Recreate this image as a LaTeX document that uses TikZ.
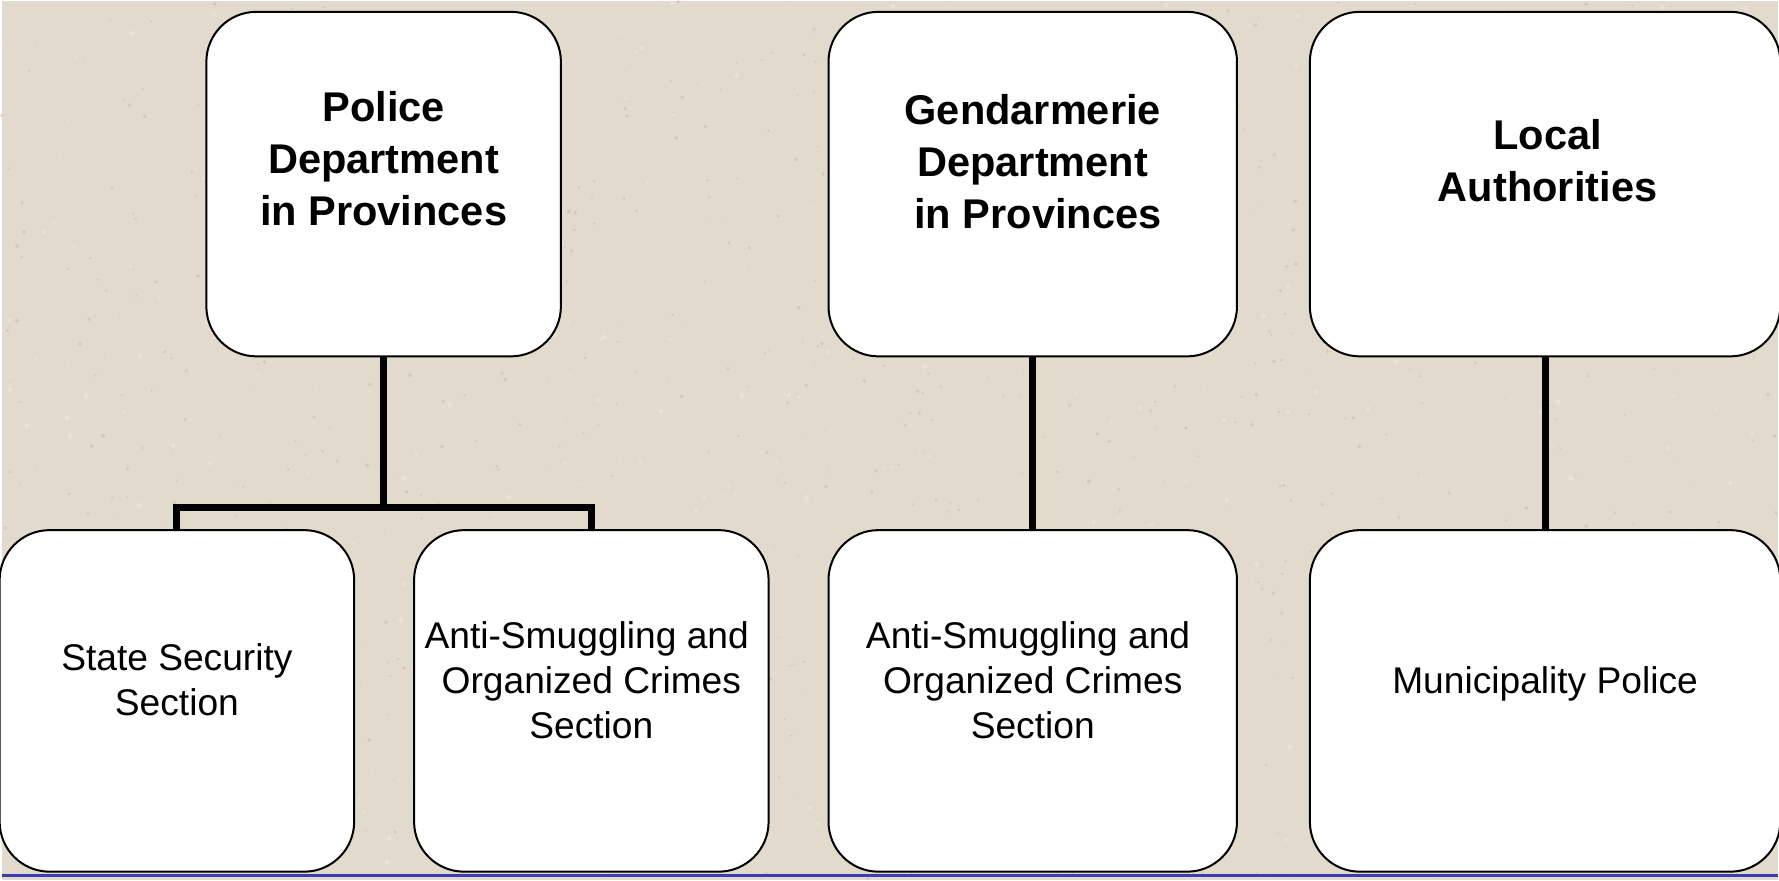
\documentclass[tikz,border=0pt]{standalone}
\usepackage{fontspec}
\setmainfont{Liberation Sans}
\definecolor{paper}{RGB}{226,218,204}
\definecolor{speck}{RGB}{196,186,168}
\definecolor{speckl}{RGB}{238,232,220}
\definecolor{rule}{RGB}{60,60,180}
\tikzset{
  x=0.5pt, y=-0.5pt,
  orgbox/.style={draw=black, line width=1pt, fill=white, rounded corners=25pt,
    inner sep=0pt, outer sep=0pt, minimum height=172.5pt},
  headtext/.style={align=center, inner sep=0pt,
    font=\fontsize{20.8pt}{26pt}\selectfont\bfseries},
  subtext/.style={align=center, inner sep=0pt,
    font=\fontsize{18.6pt}{22.5pt}\selectfont},
  conn/.style={draw=black, line width=3.5pt},
  bluerule/.style={draw=rule, line width=1.5pt}
}
\begin{document}
\begin{tikzpicture}
\fill[paper] (0,0) rectangle (1779,880);
\pgfmathsetseed{7}
\foreach \i in {1,...,900}{
  \pgfmathsetmacro{\px}{rnd*1779}
  \pgfmathsetmacro{\py}{rnd*880}
  \pgfmathsetmacro{\pr}{0.6+rnd*1.4}
  \fill[speck, opacity=0.55] (\px,\py) circle[radius=\pr];
}
\foreach \i in {1,...,500}{
  \pgfmathsetmacro{\px}{rnd*1779}
  \pgfmathsetmacro{\py}{rnd*880}
  \pgfmathsetmacro{\pr}{0.8+rnd*1.8}
  \fill[speckl, opacity=0.6] (\px,\py) circle[radius=\pr];
}
\useasboundingbox (0,0) rectangle (1779,880);
% bottom blue rule
\coordinate (bl) at (0,876);
\coordinate (br) at (1779,876);
\draw[bluerule] (bl) -- (br);
% top boxes
\node[orgbox, minimum width=177.5pt] (P) at (382.5,183.5) {};
\node[orgbox, minimum width=204.5pt] (G) at (1032.5,183.5) {};
\node[orgbox, minimum width=235.5pt] (L) at (1545.5,183.5) {};
% bottom boxes
\node[orgbox, minimum width=177.5pt, minimum height=171pt] (S) at (175.5,701) {};
\node[orgbox, minimum width=177.5pt, minimum height=171pt] (A1) at (590.5,701) {};
\node[orgbox, minimum width=204.5pt, minimum height=171pt] (A2) at (1032.5,701) {};
\node[orgbox, minimum width=235.5pt, minimum height=171pt] (M) at (1545.5,701) {};
% connectors
\coordinate (j) at (382.5,507);
\draw[conn] (P.south) -- (j);
\draw[conn] (S.north) |- (j) -| (A1.north);
\draw[conn] (G.south) -- (A2.north);
\draw[conn] (L.south) -- (M.north);
% texts
\node[headtext] (tP) at (382.5,158) {Police\\Department\\in Provinces};
\node[headtext] (tG) at (1032.5,161) {Gendarmerie\\Department\hspace*{0.25em}\\\hspace*{0.25em}in Provinces};
\node[headtext] (tL) at (1548,160) {Local\\Authorities};
\node[subtext] (tS) at (175.5,680) {State Security\\Section};
\node[subtext] (tA1) at (590.5,680) {Anti-Smuggling and\hspace*{0.25em}\\Organized Crimes\\Section};
\node[subtext] (tA2) at (1032.5,680) {Anti-Smuggling and\hspace*{0.25em}\\Organized Crimes\\Section};
\node[subtext] (tM) at (1545.5,684) {Municipality Police};
\end{tikzpicture}
\end{document}
